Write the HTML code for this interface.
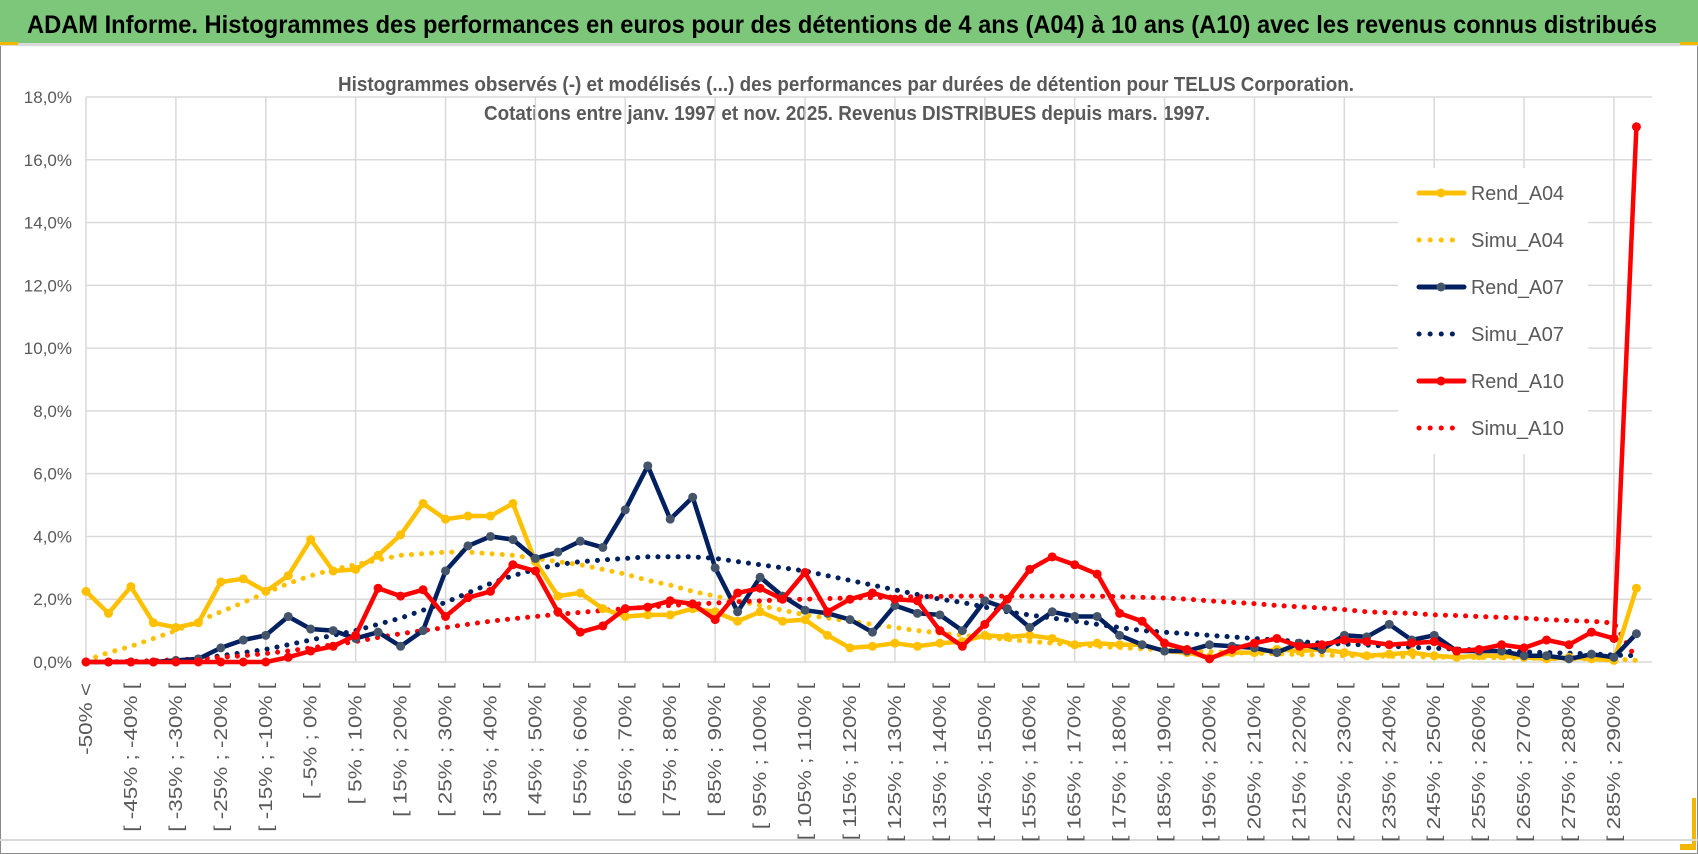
<!DOCTYPE html>
<html><head><meta charset="utf-8">
<style>
html,body{margin:0;padding:0;background:#fff;}
svg{display:block;font-family:"Liberation Sans",sans-serif;}
</style></head>
<body>
<svg id="chart" width="1698" height="854" viewBox="0 0 1698 854">
  <rect x="0" y="0" width="1698" height="854" fill="#fff"/>
  <rect x="0.5" y="0.5" width="1697" height="853" fill="none" stroke="#8a8a8a"/>
  <rect x="0" y="0" width="1698" height="43" fill="#7dc77b"/>
  <rect x="0" y="43" width="1698" height="3" fill="#d9d9d9"/>
  <rect x="0" y="42" width="18" height="3" fill="#f2b800"/>
  <rect x="1680" y="42" width="18" height="3" fill="#f2b800"/>
  <rect x="1692" y="798" width="4" height="50" fill="#f2b800"/>
  <rect x="1680" y="844" width="16" height="6" fill="#f2b800"/>
  <text x="27" y="33" font-size="25" font-weight="bold" fill="#000" textLength="1630" lengthAdjust="spacingAndGlyphs">ADAM Informe. Histogrammes des performances en euros pour des détentions de 4 ans (A04) à 10 ans (A10) avec les revenus connus distribués</text>
  <text x="338" y="91" font-size="20" font-weight="bold" fill="#595959" textLength="1016" lengthAdjust="spacingAndGlyphs">Histogrammes observés (-) et modélisés (...) des performances par durées de détention pour TELUS Corporation.</text>
  <text x="484" y="120" font-size="20" font-weight="bold" fill="#595959" textLength="726" lengthAdjust="spacingAndGlyphs">Cotations entre janv. 1997 et nov. 2025. Revenus DISTRIBUES depuis mars. 1997.</text>
  <line x1="0" y1="840" x2="1698" y2="840" stroke="#d9d9d9" stroke-width="2"/>
  <g id="grid"></g>
  <g id="yaxis"></g>
  <g id="xaxis"></g>
  <g id="series"></g>
  <g id="legend"></g>
</svg>
<script>
const categories = [];
for (let i = 0; i < 70; i++) {
  if (i === 0) categories.push('-50% <');
  else { const a = -55 + 5 * i; categories.push('[ ' + a + '% ; ' + (a + 5) + '% ['); }
}
const yTicks = [0, 2, 4, 6, 8, 10, 12, 14, 16, 18];
const yTickLabels = ['0,0%','2,0%','4,0%','6,0%','8,0%','10,0%','12,0%','14,0%','16,0%','18,0%'];
const rendA04 = [2.25,1.55,2.4,1.25,1.1,1.25,2.55,2.65,2.25,2.75,3.9,2.9,2.95,3.4,4.05,5.05,4.55,4.65,4.65,5.05,3.2,2.1,2.2,1.7,1.45,1.5,1.5,1.7,1.6,1.3,1.6,1.3,1.35,0.85,0.45,0.5,0.6,0.5,0.6,0.65,0.85,0.8,0.85,0.75,0.55,0.6,0.55,0.55,0.35,0.3,0.15,0.3,0.3,0.4,0.35,0.4,0.3,0.2,0.25,0.3,0.2,0.15,0.2,0.2,0.15,0.1,0.15,0.1,0.05,2.35];
const simuA04 = [0.05,0.3,0.5,0.75,1.0,1.3,1.6,1.9,2.2,2.5,2.75,2.95,3.1,3.25,3.4,3.45,3.5,3.5,3.45,3.4,3.3,3.2,3.1,2.95,2.8,2.6,2.45,2.25,2.1,1.95,1.8,1.65,1.5,1.4,1.3,1.2,1.1,1.0,0.92,0.85,0.78,0.72,0.66,0.6,0.55,0.5,0.46,0.42,0.39,0.36,0.33,0.3,0.28,0.26,0.24,0.22,0.2,0.19,0.18,0.17,0.16,0.15,0.14,0.13,0.12,0.11,0.1,0.1,0.1,0.05];
const rendA07 = [0,0,0,0,0.05,0.1,0.45,0.7,0.85,1.45,1.05,1.0,0.75,0.95,0.5,1.0,2.9,3.7,4.0,3.9,3.3,3.5,3.85,3.65,4.85,6.25,4.55,5.25,3.0,1.6,2.7,2.1,1.65,1.55,1.35,0.95,1.8,1.55,1.5,1.0,1.95,1.7,1.1,1.6,1.45,1.45,0.85,0.55,0.35,0.35,0.55,0.5,0.45,0.3,0.6,0.4,0.85,0.8,1.2,0.7,0.85,0.35,0.35,0.35,0.2,0.2,0.1,0.25,0.15,0.9];
const simuA07 = [0,0,0.01,0.03,0.05,0.1,0.2,0.3,0.4,0.55,0.7,0.85,1.0,1.2,1.4,1.65,1.9,2.2,2.5,2.75,2.95,3.1,3.2,3.25,3.3,3.35,3.35,3.35,3.3,3.2,3.1,3.0,2.9,2.75,2.6,2.45,2.3,2.15,2.0,1.9,1.75,1.6,1.5,1.4,1.3,1.2,1.1,1.0,0.95,0.9,0.85,0.8,0.75,0.7,0.65,0.6,0.57,0.54,0.5,0.47,0.44,0.41,0.38,0.35,0.32,0.3,0.28,0.26,0.22,0.2];
const rendA10 = [0,0,0,0,0,0,0,0,0,0.15,0.35,0.5,0.85,2.35,2.1,2.3,1.45,2.05,2.25,3.1,2.9,1.6,0.95,1.15,1.7,1.75,1.95,1.85,1.35,2.2,2.35,2.0,2.85,1.6,2.0,2.2,2.0,1.95,1.0,0.5,1.2,2.0,2.95,3.35,3.1,2.8,1.55,1.3,0.6,0.4,0.1,0.4,0.6,0.75,0.5,0.55,0.7,0.65,0.55,0.6,0.65,0.35,0.4,0.55,0.45,0.7,0.55,0.95,0.75,17.05];
const simuA10 = [0,0,0.02,0.04,0.07,0.1,0.15,0.2,0.27,0.35,0.45,0.55,0.65,0.78,0.9,1.0,1.1,1.2,1.3,1.38,1.45,1.52,1.58,1.64,1.7,1.75,1.8,1.84,1.88,1.92,1.95,1.98,2.0,2.02,2.04,2.05,2.07,2.08,2.09,2.1,2.1,2.1,2.1,2.1,2.1,2.1,2.08,2.06,2.04,2.0,1.95,1.9,1.86,1.8,1.76,1.72,1.67,1.6,1.57,1.55,1.5,1.48,1.45,1.42,1.4,1.35,1.32,1.3,1.24,0.1];
const seriesNames = ['Rend_A04','Simu_A04','Rend_A07','Simu_A07','Rend_A10','Simu_A10'];

const NS = 'http://www.w3.org/2000/svg';
const X0 = 86, DX = 22.47, Y0 = 662, PPU = 31.39;
function xs(i) { return X0 + DX * i; }
function ys(v) { return Y0 - v * PPU; }
function mk(tag, attrs, parent) {
  const e = document.createElementNS(NS, tag);
  for (const k in attrs) e.setAttribute(k, attrs[k]);
  parent.appendChild(e);
  return e;
}
const grid = document.getElementById('grid');
yTicks.forEach(function (t) {
  const l = mk('line', {x1: X0, x2: 1652, y1: ys(t), y2: ys(t), stroke: '#d9d9d9', 'stroke-width': 1.5}, grid);
  
  
});
for (let i = 0; i < categories.length; i += 4) {
  const l = mk('line', {x1: xs(i), x2: xs(i), y1: ys(18), y2: Y0, stroke: '#d9d9d9', 'stroke-width': 1.5}, grid);
  
  
}
const yax = document.getElementById('yaxis');
yTicks.forEach(function (t, k) {
  const tx = mk('text', {x: 72, y: ys(t) + 6, 'text-anchor': 'end', 'font-size': 17, fill: '#595959'}, yax);
  tx.textContent = yTickLabels[k];
  
  
});
const xax = document.getElementById('xaxis');
for (let i = 0; i < categories.length; i += 2) {
  const x = xs(i) + 6;
  const tx = mk('text', {x: x, y: 683, 'text-anchor': 'end', 'font-size': 18, fill: '#595959', transform: 'rotate(-90 ' + x + ' 683)'}, xax);
  tx.textContent = categories[i];
  
  
  const w = tx.getComputedTextLength();
  if (w > 0) { tx.setAttribute('textLength', (w * 1.25).toFixed(1)); tx.setAttribute('lengthAdjust', 'spacingAndGlyphs'); }
}
const ser = document.getElementById('series');
function pts(arr) { return arr.map(function (v, i) { return xs(i).toFixed(1) + ',' + ys(v).toFixed(1); }).join(' '); }
function dotted(arr, color, name) {
  const p = mk('polyline', {points: pts(arr), fill: 'none', stroke: color, 'stroke-width': 5, 'stroke-linecap': 'round', 'stroke-dasharray': '0.1 10'}, ser);
  
  
}
function solid(arr, color, mcol, name) {
  const g = mk('g', {}, ser);
  
  
  mk('polyline', {points: pts(arr), fill: 'none', stroke: color, 'stroke-width': 4.5, 'stroke-linejoin': 'round'}, g);
  arr.forEach(function (v, i) {
    const c = mk('circle', {cx: xs(i), cy: ys(v), r: 4.5, fill: mcol}, g);
    
    
  });
}
dotted(simuA04, '#FFC000', 'simu-a04-line');
dotted(simuA07, '#002060', 'simu-a07-line');
dotted(simuA10, '#FF0000', 'simu-a10-line');
solid(rendA04, '#FFC000', '#FFC000', 'rend-a04-line');
solid(rendA07, '#002060', '#44546A', 'rend-a07-line');
solid(rendA10, '#FF0000', '#FF0000', 'rend-a10-line');

const leg = document.getElementById('legend');
const bg = mk('rect', {x: 1398, y: 168, width: 190, height: 286, fill: '#fff'}, leg);


const legColors = ['#FFC000','#FFC000','#002060','#002060','#FF0000','#FF0000'];
const legMk = ['#FFC000','#FFC000','#44546A','#44546A','#FF0000','#FF0000'];
const legY = [193, 240, 287, 334, 381, 428];
seriesNames.forEach(function (n, k) {
  const g = mk('g', {}, leg);
  
  
  const y = legY[k];
  if (k % 2 === 0) {
    mk('line', {x1: 1419, x2: 1464, y1: y, y2: y, stroke: legColors[k], 'stroke-width': 5, 'stroke-linecap': 'round'}, g);
    mk('circle', {cx: 1441, cy: y, r: 4.5, fill: legMk[k]}, g);
  } else {
    mk('line', {x1: 1419, x2: 1460, y1: y, y2: y, stroke: legColors[k], 'stroke-width': 5, 'stroke-linecap': 'round', 'stroke-dasharray': '0.1 11'}, g);
  }
  const t = mk('text', {x: 1471, y: y + 7, 'font-size': 20, fill: '#595959', textLength: 93, lengthAdjust: 'spacingAndGlyphs'}, g);
  t.textContent = n;
});
</script>
</body></html>
